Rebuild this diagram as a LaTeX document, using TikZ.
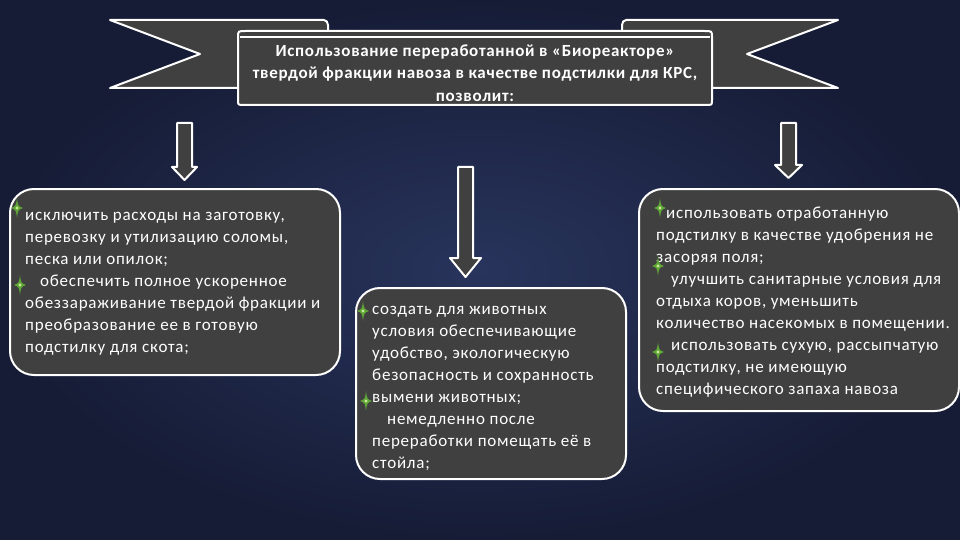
\documentclass[tikz,border=0pt]{standalone}
\usepackage{fontspec}
\setmainfont{Carlito}
\newfontfamily\bodyfont[LetterSpace=4.5]{Carlito}
\newfontfamily\titlefont[LetterSpace=4]{Carlito}
\definecolor{bgin}{RGB}{40,52,92}
\definecolor{bgout}{RGB}{22,28,54}
\definecolor{boxgrey}{RGB}{64,64,64}
\definecolor{sparkgreen}{RGB}{96,165,55}
\definecolor{sparklight}{RGB}{200,235,150}
\tikzset{
  outline/.style={draw=white, line width=2pt, fill=boxgrey, line join=round},
  panel/.style={outline, rounded corners=24pt, anchor=north west, inner sep=0pt},
  bodytext/.style={text=white, anchor=north west, inner sep=0pt, align=left,
     font=\bodyfont\fontsize{17}{22}\selectfont},
  titletext/.style={text=white, align=center, inner sep=0pt,
     font=\titlefont\bfseries\fontsize{17}{22.5}\selectfont},
}
\newcommand\sparkle[2]{%
  \fill[sparkgreen,shift={(#1,#2)}] (0,-10) .. controls (1,-2) .. (6,0) .. controls (1,2) .. (0,10) .. controls (-1,2) .. (-6,0) .. controls (-1,-2) .. cycle;
  \fill[sparklight,shift={(#1,#2)}] (0,0) circle (1.6);
}
\begin{document}
\begin{tikzpicture}[x=1pt,y=-1pt]
\useasboundingbox (0,0) rectangle (960,540);
\shade[inner color=bgin, outer color=bgout] (0,0) rectangle (960,540);

% banner tails
\path[outline] (110,20) -- (324,20) arc[start angle=90,end angle=0,x radius=4,y radius=-5] -- (328,88) -- (110,88) -- (200,54) -- cycle;
\path[outline] (838,20) -- (626,20) arc[start angle=90,end angle=180,x radius=4,y radius=-5] -- (622,88) -- (838,88) -- (747,54) -- cycle;
% banner main scroll
\path[outline] (238,37) .. controls (238,31) .. (246,31) -- (704,31) .. controls (712,31) .. (712,37)
   -- (712,100) .. controls (712,105) .. (706,105) -- (244,105) .. controls (238,105) .. (238,100) -- cycle;
\draw[white, line width=1.5pt] (240,37) -- (710,37);
\node[titletext] (title) at (475,73) {Использование переработанной в «Биореакторе»\\твердой фракции навоза в качестве подстилки для КРС,\\позволит:};

% block arrows
\path[outline] (177,123) -- (192,123) -- (192,167) -- (197,167) -- (184.5,180) -- (172,167) -- (177,167) -- cycle;
\path[outline] (458,167) -- (473,167) -- (473,258) -- (481,258) -- (465.5,277) -- (450,258) -- (458,258) -- cycle;
\path[outline] (781,123) -- (796,123) -- (796,165) -- (802,165) -- (788.5,178) -- (775,165) -- (781,165) -- cycle;

% panels
\node[panel, minimum width=330pt, minimum height=186pt] (lbox) at (9,188) {};
\node[panel, minimum width=270pt, minimum height=191pt] (mbox) at (355,287) {};
\node[panel, minimum width=320pt, minimum height=222pt] (rbox) at (638,188) {};

\node[bodytext] (ltext) at (25,205) {\strut исключить расходы на заготовку,\\перевозку и утилизацию соломы,\\песка или опилок;\\\hspace*{15pt}обеспечить полное ускоренное\\обеззараживание твердой фракции и\\преобразование ее в готовую\\подстилку для скота;};
\node[bodytext] (mtext) at (372,299) {\strut создать для животных\\условия обеспечивающие\\удобство, экологическую\\безопасность и сохранность\\вымени животных;\\\hspace*{15pt}немедленно после\\переработки помещать её в\\стойла;};
\node[bodytext] (rtext) at (656,203) {\strut\hspace*{10pt}использовать отработанную\\подстилку в качестве удобрения не\\засоряя поля;\\\hspace*{15pt}улучшить санитарные условия для\\отдыха коров, уменьшить\\количество насекомых в помещении.\\\hspace*{15pt}использовать сухую, рассыпчатую\\подстилку, не имеющую\\специфического запаха навоза};

% sparkles
\sparkle{17}{208}
\sparkle{20}{285}
\sparkle{363}{311}
\sparkle{366}{401}
\sparkle{660}{208}
\sparkle{658}{266}
\sparkle{658}{352}
\end{tikzpicture}
\end{document}
